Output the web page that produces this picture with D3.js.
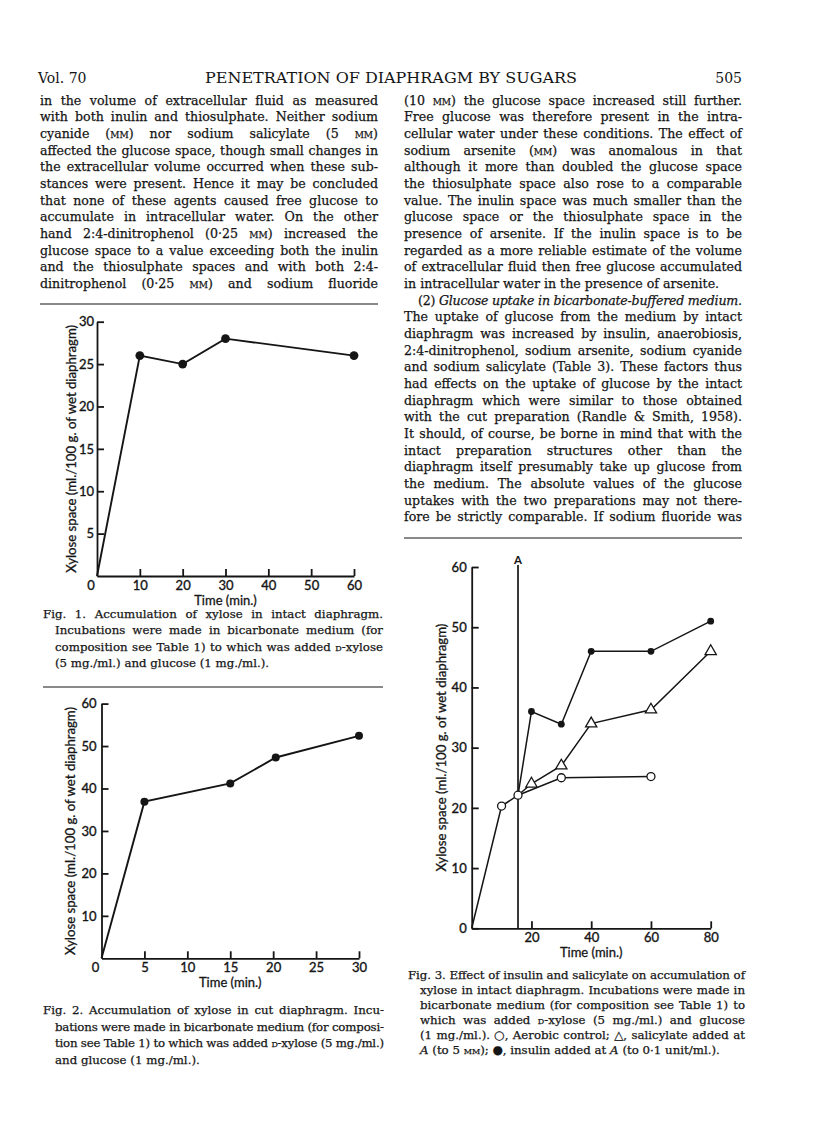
<!DOCTYPE html>
<html>
<head>
<meta charset="utf-8">
<script src="https://cdn.jsdelivr.net/npm/d3@7"></script>
<style>
  body { margin: 0; background: #fff; }
</style>
</head>
<body>
<svg width="816" height="1138"></svg>
<script>
// ---- chart values ----
const fig1Time = [0, 10, 20, 30, 60];
const fig1Xylose = [0, 26, 25, 28, 26];
const fig1XTicks = [10, 20, 30, 40, 50, 60];
const fig1YTicks = [5, 10, 15, 20, 25, 30];

const fig2Time = [0, 5, 15, 20.3, 30];
const fig2Xylose = [0, 36.9, 41.2, 47.3, 52.4];
const fig2XTicks = [5, 10, 15, 20, 25, 30];
const fig2YTicks = [10, 20, 30, 40, 50, 60];

const fig3AddedAt = 15.5;
const fig3ControlTime = [0, 10, 15.5, 30, 60];
const fig3Control = [0, 20.3, 22.1, 25, 25.2];
const fig3SalTime = [20, 30, 40, 60, 80];
const fig3Salicylate = [24, 27, 34, 36.3, 46];
const fig3InsTime = [20, 30, 40, 60, 80];
const fig3Insulin = [36, 33.9, 46, 46, 51];
const fig3XTicks = [20, 40, 60, 80];
const fig3YTicks = [0, 10, 20, 30, 40, 50, 60];

const yTitle = "Xylose space (ml./100 g. of wet diaphragm)";
const xTitle = "Time (min.)";

// ---- page text ({..} = small capitals, _.._ = italic) ----
const leftColumn = [
  "in the volume of extracellular fluid as measured",
  "with both inulin and thiosulphate. Neither sodium",
  "cyanide ({mm}) nor sodium salicylate (5 {mm})",
  "affected the glucose space, though small changes in",
  "the extracellular volume occurred when these sub-",
  "stances were present. Hence it may be concluded",
  "that none of these agents caused free glucose to",
  "accumulate in intracellular water. On the other",
  "hand 2:4-dinitrophenol (0·25 {mm}) increased the",
  "glucose space to a value exceeding both the inulin",
  "and the thiosulphate spaces and with both 2:4-",
  "dinitrophenol (0·25 {mm}) and sodium fluoride"
];
const rightColumn = [
  "(10 {mm}) the glucose space increased still further.",
  "Free glucose was therefore present in the intra-",
  "cellular water under these conditions. The effect of",
  "sodium arsenite ({mm}) was anomalous in that",
  "although it more than doubled the glucose space",
  "the thiosulphate space also rose to a comparable",
  "value. The inulin space was much smaller than the",
  "glucose space or the thiosulphate space in the",
  "presence of arsenite. If the inulin space is to be",
  "regarded as a more reliable estimate of the volume",
  "of extracellular fluid then free glucose accumulated",
  "in intracellular water in the presence of arsenite.",
  "(2) _Glucose uptake in bicarbonate-buffered medium._",
  "The uptake of glucose from the medium by intact",
  "diaphragm was increased by insulin, anaerobiosis,",
  "2:4-dinitrophenol, sodium arsenite, sodium cyanide",
  "and sodium salicylate (Table 3). These factors thus",
  "had effects on the uptake of glucose by the intact",
  "diaphragm which were similar to those obtained",
  "with the cut preparation (Randle & Smith, 1958).",
  "It should, of course, be borne in mind that with the",
  "intact preparation structures other than the",
  "diaphragm itself presumably take up glucose from",
  "the medium. The absolute values of the glucose",
  "uptakes with the two preparations may not there-",
  "fore be strictly comparable. If sodium fluoride was"
];
const caption1 = [
  "Fig. 1. Accumulation of xylose in intact diaphragm.",
  "Incubations were made in bicarbonate medium (for",
  "composition see Table 1) to which was added {d}-xylose",
  "(5 mg./ml.) and glucose (1 mg./ml.)."
];
const caption2 = [
  "Fig. 2. Accumulation of xylose in cut diaphragm. Incu-",
  "bations were made in bicarbonate medium (for composi-",
  "tion see Table 1) to which was added {d}-xylose (5 mg./ml.)",
  "and glucose (1 mg./ml.)."
];
const caption3 = [
  "Fig. 3. Effect of insulin and salicylate on accumulation of",
  "xylose in intact diaphragm. Incubations were made in",
  "bicarbonate medium (for composition see Table 1) to",
  "which was added {d}-xylose (5 mg./ml.) and glucose",
  "(1 mg./ml.). ○, Aerobic control; △, salicylate added at",
  "_A_ (to 5 {mm}); ●, insulin added at _A_ (to 0·1 unit/ml.)."
];

const ink = "#151515";
const serif = "'DejaVu Serif', serif";
const sans = "Lato, 'Open Sans', sans-serif";

const svg = d3.select("svg");
svg.append("rect").attr("width", 816).attr("height", 1138).attr("fill", "#fff");

// one line of text; justified lines get extra word-spacing,
// lines that are too long are squeezed with letter-spacing
function textLine(x, y, width, str, justify, size) {
  const t = svg.append("text")
    .attr("x", x).attr("y", y)
    .attr("font-family", serif)
    .attr("font-size", size)
    .attr("fill", ink)
    .attr("stroke", ink).attr("stroke-width", 0.25);
  str.split(/(\{[^}]*\}|_[^_]*_)/).filter(s => s.length).forEach(s => {
    const span = t.append("tspan");
    if (s[0] === "{") span.text(s.slice(1, -1)).style("font-variant", "small-caps");
    else if (s[0] === "_") span.text(s.slice(1, -1)).attr("font-style", "italic");
    else span.text(s);
  });
  const len = t.node().getComputedTextLength();
  const gaps = (str.match(/ /g) || []).length;
  if (len > width) {
    t.attr("textLength", width).attr("lengthAdjust", "spacing");
  } else if (justify && gaps) {
    t.style("word-spacing", ((width - len) / gaps) + "px");
  }
  return t;
}

function block(lines, x0, y0, step, width, opts) {
  lines.forEach((s, i) => {
    const indent = (opts.indents && opts.indents[i]) || (i > 0 && opts.hang ? opts.hang : 0);
    const last = i === lines.length - 1;
    const justify = !(opts.raggedLast && last) && !(opts.ragged || []).includes(i);
    textLine(x0 + indent, y0 + i * step, width - indent, s, justify, opts.size);
  });
}

// ---- running head ----
svg.append("text").attr("x", 38).attr("y", 83)
  .attr("font-family", serif).attr("font-size", 14).attr("fill", ink).text("Vol. 70");
svg.append("text").attr("x", 391).attr("y", 83).attr("text-anchor", "middle")
  .attr("font-family", serif).attr("font-size", 14.5).attr("fill", ink)
  .attr("textLength", 372).attr("lengthAdjust", "spacingAndGlyphs")
  .text("PENETRATION OF DIAPHRAGM BY SUGARS");
svg.append("text").attr("x", 742).attr("y", 83).attr("text-anchor", "end")
  .attr("font-family", serif).attr("font-size", 14).attr("fill", ink).text("505");

// ---- columns ----
const lineStep = 16.67;
block(leftColumn, 40, 104.5, lineStep, 338, { size: 12.6 });
block(rightColumn, 404, 104.5, lineStep, 338, { size: 12.6, ragged: [11], indents: { 12: 14 } });

function rule(x1, x2, y) {
  svg.append("line").attr("x1", x1).attr("x2", x2).attr("y1", y).attr("y2", y)
    .attr("stroke", ink).attr("stroke-width", 1);
}
rule(40, 378, 304);
rule(404, 742, 538);
rule(43, 383, 687);

// ---- captions ----
block(caption1, 43, 617.5, 16.6, 340, { size: 11.8, hang: 12, raggedLast: true });
block(caption2, 43, 1014, 16.6, 341, { size: 11.8, hang: 12, raggedLast: true });
block(caption3, 408, 979, 15, 337, { size: 11.8, hang: 12, raggedLast: true });

// ---- charts ----
function chart(o) {
  const g = svg.append("g");
  const x = d3.scaleLinear().domain(o.xDomain).range(o.xRange);
  const y = d3.scaleLinear().domain(o.yDomain).range(o.yRange);

  const ax = g.append("g").attr("transform", `translate(0,${o.yRange[0]})`)
    .call(d3.axisBottom(x).tickValues(o.xTicks).tickSizeInner(-7).tickSizeOuter(0).tickPadding(4.5));
  const ay = g.append("g").attr("transform", `translate(${o.xRange[0]},0)`)
    .call(d3.axisLeft(y).tickValues(o.yTicks).tickSizeInner(-7).tickSizeOuter(0).tickPadding(o.yPad));
  [ax, ay].forEach(a => {
    a.attr("font-family", sans).attr("font-size", 13);
    a.selectAll("path, line").attr("stroke", ink).attr("stroke-width", 1.8);
    a.selectAll("text").attr("fill", ink).attr("stroke", ink).attr("stroke-width", 0.35);
  });
  if (o.originLabel) {
    g.append("text").attr("x", o.xRange[0] - 6).attr("y", o.yRange[0] + 13.7)
      .attr("text-anchor", "middle").attr("font-family", sans).attr("font-size", 13)
      .attr("fill", ink).attr("stroke", ink).attr("stroke-width", 0.35).text("0");
  }
  g.append("text")
    .attr("x", (o.xRange[0] + o.xRange[1]) / 2).attr("y", o.yRange[0] + 29)
    .attr("text-anchor", "middle").attr("font-family", sans).attr("font-size", 13)
    .attr("fill", ink).attr("stroke", ink).attr("stroke-width", 0.3).text(xTitle);
  g.append("text")
    .attr("transform", `translate(${o.yTitleX},${(o.yRange[0] + o.yRange[1]) / 2}) rotate(-90)`)
    .attr("text-anchor", "middle").attr("font-family", sans).attr("font-size", 13.2)
    .attr("fill", ink).attr("stroke", ink).attr("stroke-width", 0.3).text(yTitle);
  return { g, x, y };
}

const line = (x, y) => d3.line().x(d => x(d[0])).y(d => y(d[1]));

// Fig. 1
{
  const c = chart({ xDomain: [0, 60], xRange: [97, 354], yDomain: [0, 30], yRange: [576, 321.7],
    xTicks: fig1XTicks, yTicks: fig1YTicks, originLabel: true, yTitleX: 76, yPad: 3 });
  const pts = fig1Time.map((t, i) => [t, fig1Xylose[i]]);
  c.g.append("path").attr("d", line(c.x, c.y)(pts))
    .attr("fill", "none").attr("stroke", ink).attr("stroke-width", 1.9);
  c.g.selectAll("circle").data(pts.slice(1)).join("circle")
    .attr("cx", d => c.x(d[0])).attr("cy", d => c.y(d[1])).attr("r", 4.4).attr("fill", ink);
}

// Fig. 2
{
  const c = chart({ xDomain: [0, 30], xRange: [101.5, 359], yDomain: [0, 60], yRange: [958.3, 703.6],
    xTicks: fig2XTicks, yTicks: fig2YTicks, originLabel: true, yTitleX: 74.5, yPad: 5 });
  const pts = fig2Time.map((t, i) => [t, fig2Xylose[i]]);
  c.g.append("path").attr("d", line(c.x, c.y)(pts))
    .attr("fill", "none").attr("stroke", ink).attr("stroke-width", 1.9);
  c.g.selectAll("circle").data(pts.slice(1)).join("circle")
    .attr("cx", d => c.x(d[0])).attr("cy", d => c.y(d[1])).attr("r", 4).attr("fill", ink);
}

// Fig. 3
{
  const c = chart({ xDomain: [0, 80], xRange: [471.7, 710.7], yDomain: [0, 60], yRange: [928.3, 567],
    xTicks: fig3XTicks, yTicks: fig3YTicks, originLabel: false, yTitleX: 445.5, yPad: 5 });
  const ctrl = fig3ControlTime.map((t, i) => [t, fig3Control[i]]);
  const atA = ctrl.find(d => d[0] === fig3AddedAt);
  const sal = fig3SalTime.map((t, i) => [t, fig3Salicylate[i]]);
  const ins = fig3InsTime.map((t, i) => [t, fig3Insulin[i]]);

  // addition time A
  c.g.append("line").attr("x1", c.x(fig3AddedAt)).attr("x2", c.x(fig3AddedAt))
    .attr("y1", c.y(0)).attr("y2", 565).attr("stroke", ink).attr("stroke-width", 1.7);
  c.g.append("text").attr("x", c.x(fig3AddedAt)).attr("y", 563.5).attr("text-anchor", "middle")
    .attr("font-family", sans).attr("font-size", 11.5).attr("font-weight", 700)
    .attr("fill", ink).text("A");

  [ctrl, [atA].concat(sal), [atA].concat(ins)].forEach(p => {
    c.g.append("path").attr("d", line(c.x, c.y)(p))
      .attr("fill", "none").attr("stroke", ink).attr("stroke-width", 1.5);
  });
  c.g.selectAll("circle.ins").data(ins).join("circle").attr("class", "ins")
    .attr("cx", d => c.x(d[0])).attr("cy", d => c.y(d[1])).attr("r", 3.4).attr("fill", ink);
  c.g.selectAll("path.sal").data(sal).join("path").attr("class", "sal")
    .attr("d", d3.symbol(d3.symbolTriangle, 55))
    .attr("transform", d => `translate(${c.x(d[0])},${c.y(d[1])})`)
    .attr("fill", "#fff").attr("stroke", ink).attr("stroke-width", 1.3);
  c.g.selectAll("circle.ctrl").data(ctrl.slice(1)).join("circle").attr("class", "ctrl")
    .attr("cx", d => c.x(d[0])).attr("cy", d => c.y(d[1])).attr("r", 4)
    .attr("fill", "#fff").attr("stroke", ink).attr("stroke-width", 1.3);
}
</script>
</body>
</html>
